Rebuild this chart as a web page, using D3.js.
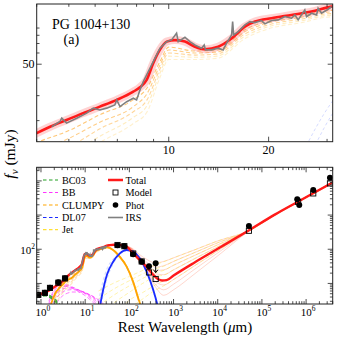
<!DOCTYPE html>
<html>
<head>
<meta charset="utf-8">
<script src="https://cdn.jsdelivr.net/npm/d3@7"></script>
<style>
  body { margin: 0; background: #fff; }
</style>
</head>
<body>
<div id="dataviz"></div>
<script>
// ---- data (rest wavelength in micron, flux in mJy) ----
const totalW = [0.8, 0.95, 1.35, 1.9, 2.7, 3.4, 4.0, 4.39, 4.92, 5.52, 6.2, 6.97, 7.82, 8.19, 8.58, 8.98, 9.4, 9.86, 10.44, 11.19, 11.99, 12.85, 14.1, 15.5, 16.96, 18.2, 20.4, 23.45, 26.9, 30.9, 36, 45, 61, 87, 122, 174, 246, 348, 450, 550, 700, 1000, 3000, 1e4, 4.9e4, 2e5, 6.5e5, 4e6];
const totalF = [4.4, 4.8, 5.7, 7.5, 10.1, 13.0, 16.3, 18.1, 20.2, 22.6, 25.1, 28.0, 32.0, 34.4, 38.8, 50.8, 63.1, 72.2, 74, 72.2, 66.5, 63.8, 66.5, 76.3, 92.1, 100, 105.6, 111.4, 117.6, 127.5, 132, 135, 133, 118, 75, 48, 30.7, 17.7, 13.3, 12.2, 12.5, 17, 41, 103, 349, 1050, 2450, 9000];

// posterior draws of the total, long wavelengths
const totSampW = [50, 100, 200, 400, 600, 1000, 3000, 1e4, 5e4, 2e5, 6.5e5, 4e6];
const totSamples = [
  [136, 118, 60, 40, 44, 56, 96, 175, 345, 1000, 2350, 8500],
  [136, 115, 52, 30, 33, 44, 80, 155, 340, 1020, 2400, 8800],
  [135, 113, 48, 24, 25, 34, 66, 135, 345, 1040, 2450, 9100],
  [135, 112, 45, 19, 18, 25, 53, 118, 350, 1060, 2500, 9300],
  [134, 110, 41, 11, 9, 13, 33, 90, 345, 1040, 2430, 8900],
  [134, 109, 40, 9, 6.5, 9.5, 26, 78, 340, 1030, 2420, 8800],
  [133, 108, 39, 7.5, 4.5, 6.5, 19, 64, 335, 1050, 2480, 9200]
];

const clumpyW = [1.5, 2, 2.5, 3, 4, 5, 6.2, 7.8, 8.6, 9.4, 10, 11, 12, 13, 14, 15.5, 17, 18.2, 20.4, 23.5, 27, 31, 43, 61, 87, 122, 159, 200];
const clumpyF = [1.5, 4.5, 7, 9, 12.5, 14.6, 19, 25, 30, 48, 62, 64, 59, 57, 60, 69, 85, 92, 98, 104, 109, 113, 95, 60, 31, 11.2, 3.7, 1.5];
const clumpySampW = [2, 3, 4, 5, 6.2, 7.8, 8.6, 9.4, 10, 12, 14, 17, 20, 25, 31, 43, 61, 87, 122, 160];
const clumpySamples = [
  [5, 10, 14, 17, 22, 28, 34, 52, 66, 62, 63, 88, 101, 110, 120, 98, 61, 32, 11.5, 3.8],
  [4.2, 8.5, 12, 15, 19.5, 25, 31, 49, 63, 60, 61, 85, 98, 107, 117, 96, 60, 31, 11, 3.6],
  [3.5, 7.2, 10.5, 13, 17.5, 23, 28, 46, 60, 58, 59, 82, 95, 104, 114, 94, 58, 30, 10.5, 3.4],
  [2.8, 6, 9, 11.5, 15.5, 21, 25.5, 43, 57, 56, 57, 79, 92, 101, 111, 92, 57, 29, 10, 3.2],
  [2.2, 5, 7.5, 10, 14, 19, 23, 40, 54, 54, 55, 76, 89, 98, 108, 90, 56, 28.5, 9.7, 3.1]
];

const dl07W = [20, 25, 31, 43, 61, 87, 122, 174, 246, 348, 414, 500];
const dl07F = [1.2, 5.7, 17.6, 43, 76, 95, 85, 54, 22, 6.4, 2.9, 1.0];
const dl07Samples = [
  [2, 8, 22, 48, 78, 93, 82, 52, 21, 6, 2.7, 0.9],
  [0.8, 4, 13, 37, 70, 95, 88, 57, 24, 7, 3.2, 1.1],
  [3, 11, 27, 52, 80, 92, 80, 49, 20, 5.6, 2.5, 0.8]
];

const bbW = [1.5, 2, 3, 4, 5, 7, 10, 15, 20, 30];
const bbSamples = [
  [3, 6.5, 9.5, 9, 8, 6.5, 5, 3.2, 2.2, 1.2],
  [2.2, 5, 8, 8.2, 7.6, 6.5, 5.2, 3.6, 2.6, 1.4],
  [1.6, 4, 6.8, 7.4, 7.2, 6.4, 5.4, 3.9, 2.9, 1.7],
  [1.2, 3, 5.5, 6.4, 6.6, 6.2, 5.4, 4.1, 3.1, 1.9],
  [0.8, 2, 4.2, 5.2, 5.6, 5.6, 5.2, 4.2, 3.3, 2.1],
  [2.6, 5.8, 8.8, 8.4, 7.4, 5.8, 4.4, 2.8, 1.9, 1.0]
];

const bc03W = [0.8, 1, 1.25, 1.6, 2, 2.5, 3, 4];
const bc03Samples = [
  [4.2, 4.6, 4.6, 4.1, 3.3, 2.5, 1.9, 1.2],
  [3.8, 4.2, 4.3, 3.8, 3.1, 2.3, 1.7, 1.0],
  [4.4, 4.9, 5.0, 4.4, 3.6, 2.7, 2.0, 1.3]
];

const jetW = [20, 50, 100, 200, 400, 600, 1000, 3000, 1e4, 5e4, 2e5, 6.5e5, 4e6];
const jetSamples = [
  [6, 11, 16, 24, 36, 43, 56, 96, 175, 345, 1000, 2350, 8500],
  [3.5, 7.5, 12, 19, 27, 32, 44, 80, 155, 340, 1020, 2400, 8800],
  [2.2, 5, 8.5, 14, 21, 24, 34, 66, 135, 345, 1040, 2450, 9100],
  [1.2, 3, 5.5, 10, 16, 17.5, 25, 53, 118, 350, 1060, 2500, 9300],
  [0.4, 1.3, 3.2, 5.4, 9.2, 12, 17, 41, 103, 349, 1050, 2450, 9000],
  [0.2, 0.7, 1.8, 3.5, 6.5, 8.5, 13, 33, 90, 345, 1040, 2430, 8900]
];

// Spitzer IRS spectrum
const irsW = [4.44, 4.70, 4.76, 4.92, 5.28, 5.66, 5.92, 6.20, 6.50, 6.88, 6.97, 7.13, 7.47, 7.82, 8.0, 8.19, 8.38, 8.58, 8.98, 9.41, 9.86, 10.2, 10.56, 10.68, 11.19, 11.58, 11.99, 12.56, 12.79, 12.91, 13.46, 14.1, 14.59, 14.94, 15.47, 15.58, 15.69, 16.19, 16.96, 17.56, 18.18, 19.04, 19.49, 20.42, 21.37, 22.39, 23.45, 23.99, 24.55, 25.71, 26.02, 26.94, 27.89, 28.2, 28.87, 30.22, 30.95];
const irsF = [18.1, 19.7, 20.8, 19.2, 20.8, 22.6, 24.5, 23.8, 24.5, 25.8, 28.0, 25.1, 27.2, 28.8, 28.0, 32.9, 37.7, 42.0, 52.2, 64.9, 72.2, 74.2, 82.7, 72.2, 77.5, 72.2, 68.4, 64.9, 68.4, 63.1, 63.1, 64.9, 63.1, 70.3, 80.5, 99.9, 80.5, 84.9, 94.7, 99.9, 98.3, 101.6, 96.3, 101.6, 102.7, 108.4, 105.6, 111.4, 102.7, 120.8, 108.4, 114.5, 111.4, 124.2, 114.5, 122.2, 127.5];

// photometry and model points
const photW = [0.87, 1.23, 1.6, 2.47, 3.5, 54, 77, 122, 190, 278, 5.08e4, 6.3e5, 7.0e5, 1.45e6, 3.47e6];
const photF = [4.6, 5.3, 7.5, 10.8, 14.1, 130, 122, 71, 43, 32, 477, 2880, 1960, 5380, 12300];
const limitW = [394];
const limitF = [39];
const modelW = [0.87, 1.23, 1.6, 2.47, 3.5, 54, 77, 122, 190, 278, 394, 5.08e4, 6.6e5, 1.45e6, 3.47e6];
const modelF = [4.6, 5.3, 7.4, 10.5, 14, 133, 123, 75, 44, 21, 13.5, 348, 2450, 4310, 8460];

// tick values
const topXTicks = [4, 5, 6, 7, 8, 9, 10, 20, 30];
const topXLabels = [10, 20];
const topYTicks = [20, 30, 40, 50, 60, 70, 80, 90];
const topYLabels = [50];
const botXLabels = [0, 1, 2, 3, 4, 5, 6];
const botYLabels = [2];

// ---- layout ----
const width = 337, height = 339;
const serif = "Liberation Serif, Times New Roman, DejaVu Serif, serif";
const topBox = { x0: 36.7, x1: 332.7, y0: 4, y1: 141.7 };
const botBox = { x0: 36.7, x1: 332.7, y0: 167.3, y1: 304 };

const svg = d3.select("#dataviz")
    .append("svg")
    .attr("width", width)
    .attr("height", height)
    .attr("font-family", serif);

const xTop = d3.scaleLog().domain([4, 31.2]).range([topBox.x0, topBox.x1]);
const yTop = d3.scaleLog().domain([14.2, 133]).range([topBox.y1, topBox.y0]);
const xBot = d3.scaleLog().domain([0.8, 4e6]).range([botBox.x0, botBox.x1]);
const yBot = d3.scaleLog().domain([2.5, 2.5e4]).range([botBox.y1, botBox.y0]);

// clip paths
const defs = svg.append("defs");
[["clipTop", topBox], ["clipBot", botBox]].forEach(([id, b]) => {
    defs.append("clipPath").attr("id", id)
        .append("rect")
        .attr("x", b.x0).attr("y", b.y0)
        .attr("width", b.x1 - b.x0).attr("height", b.y1 - b.y0);
});

function lineGen(xs, ys, curve) {
    return d3.line()
        .x(d => xs(d[0]))
        .y(d => ys(d[1]))
        .curve(curve || d3.curveMonotoneX);
}

function drawLine(g, xs, ys, w, f, style, curve) {
    const p = g.append("path")
        .datum(d3.zip(w, f))
        .attr("d", lineGen(xs, ys, curve))
        .attr("fill", "none");
    for (const k in style) p.attr(k, style[k]);
    return p;
}

function addText(x, y, size, str) {
    return svg.append("text")
        .attr("x", x).attr("y", y)
        .attr("font-family", serif)
        .attr("font-size", size)
        .attr("fill", "#000")
        .text(str);
}

// ---- top panel ----
const gTop = svg.append("g").attr("clip-path", "url(#clipTop)");

clumpySamples.forEach((s, i) => {
    drawLine(gTop, xTop, yTop, clumpySampW, s, {
        stroke: i < 3 ? "#ffa21a" : "#ffc94d", "stroke-width": 1.1,
        "stroke-dasharray": "4,2.5", opacity: 0.6 - i * 0.08
    });
});
dl07Samples.forEach(s => {
    drawLine(gTop, xTop, yTop, dl07W, s, {
        stroke: "#8899ff", "stroke-width": 1, "stroke-dasharray": "3,2.5", opacity: 0.35
    });
});
// posterior halo + best total
drawLine(gTop, xTop, yTop, totalW, totalF, { stroke: "#ff8080", "stroke-width": 8, opacity: 0.35 });
drawLine(gTop, xTop, yTop, totalW, totalF, { stroke: "#ff1a1a", "stroke-width": 2.6 });
drawLine(gTop, xTop, yTop, irsW, irsF, { stroke: "#808080", "stroke-width": 1.6 }, d3.curveLinear);

// ---- bottom panel ----
const gBot = svg.append("g").attr("clip-path", "url(#clipBot)");

totSamples.forEach(s => {
    drawLine(gBot, xBot, yBot, totSampW, s, { stroke: "#ff7a5c", "stroke-width": 1, opacity: 0.3 });
});
jetSamples.forEach(s => {
    drawLine(gBot, xBot, yBot, jetW, s, {
        stroke: "#ffe033", "stroke-width": 1, "stroke-dasharray": "4,2.5", opacity: 0.4
    });
});
bbSamples.forEach(s => {
    drawLine(gBot, xBot, yBot, bbW, s, {
        stroke: "#ff33ff", "stroke-width": 1, "stroke-dasharray": "4,2.5", opacity: 0.65
    });
});
bc03Samples.forEach(s => {
    drawLine(gBot, xBot, yBot, bc03W, s, {
        stroke: "#22a022", "stroke-width": 1.2, "stroke-dasharray": "4,2.5", opacity: 0.8
    });
});
dl07Samples.forEach(s => {
    drawLine(gBot, xBot, yBot, dl07W, s, {
        stroke: "#8899ff", "stroke-width": 1, "stroke-dasharray": "3,2.5", opacity: 0.35
    });
});
clumpySamples.forEach((s, i) => {
    drawLine(gBot, xBot, yBot, clumpySampW, s, {
        stroke: "#ffa21a", "stroke-width": 1.1, "stroke-dasharray": "4,2.5", opacity: 0.6 - i * 0.08
    });
});
drawLine(gBot, xBot, yBot, clumpyW, clumpyF, { stroke: "#ffa500", "stroke-width": 1.8 });
drawLine(gBot, xBot, yBot, dl07W, dl07F, { stroke: "#1a2bff", "stroke-width": 1.8 });
drawLine(gBot, xBot, yBot, totalW, totalF, { stroke: "#ff1a1a", "stroke-width": 2.4 });
drawLine(gBot, xBot, yBot, irsW, irsF, { stroke: "#808080", "stroke-width": 1.6 }, d3.curveLinear);

// model squares
gBot.selectAll(".model")
    .data(d3.zip(modelW, modelF))
    .join("rect")
    .attr("x", d => xBot(d[0]) - 2.6)
    .attr("y", d => yBot(d[1]) - 2.6)
    .attr("width", 5.2).attr("height", 5.2)
    .attr("fill", "none").attr("stroke", "#000").attr("stroke-width", 0.9);

// photometry
gBot.selectAll(".phot")
    .data(d3.zip(photW, photF).concat(d3.zip(limitW, limitF)))
    .join("circle")
    .attr("cx", d => xBot(d[0]))
    .attr("cy", d => yBot(d[1]))
    .attr("r", 3)
    .attr("fill", "#000");

// upper limit arrows
d3.zip(limitW, limitF).forEach(d => {
    const cx = xBot(d[0]), cy = yBot(d[1]);
    gBot.append("line")
        .attr("x1", cx).attr("x2", cx).attr("y1", cy).attr("y2", cy + 9)
        .attr("stroke", "#000").attr("stroke-width", 1);
    gBot.append("path")
        .attr("d", `M${cx - 2.2},${cy + 6.5} L${cx},${cy + 9.5} L${cx + 2.2},${cy + 6.5}`)
        .attr("fill", "none").attr("stroke", "#000").attr("stroke-width", 1);
});

// ---- axes: frames and inward ticks on all sides ----
function frame(b) {
    svg.append("rect")
        .attr("x", b.x0).attr("y", b.y0)
        .attr("width", b.x1 - b.x0).attr("height", b.y1 - b.y0)
        .attr("fill", "none").attr("stroke", "#222").attr("stroke-width", 1);
}

function xTicks(b, xs, values, isMajor) {
    values.forEach(v => {
        const x = xs(v), len = isMajor(v) ? 5 : 2.8;
        svg.append("line").attr("x1", x).attr("x2", x).attr("y1", b.y1).attr("y2", b.y1 - len)
            .attr("stroke", "#222").attr("stroke-width", 0.8);
        svg.append("line").attr("x1", x).attr("x2", x).attr("y1", b.y0).attr("y2", b.y0 + len)
            .attr("stroke", "#222").attr("stroke-width", 0.8);
    });
}

function yTicks(b, ys, values, isMajor) {
    values.forEach(v => {
        const y = ys(v), len = isMajor(v) ? 5 : 2.8;
        svg.append("line").attr("y1", y).attr("y2", y).attr("x1", b.x0).attr("x2", b.x0 + len)
            .attr("stroke", "#222").attr("stroke-width", 0.8);
        svg.append("line").attr("y1", y).attr("y2", y).attr("x1", b.x1).attr("x2", b.x1 - len)
            .attr("stroke", "#222").attr("stroke-width", 0.8);
    });
}

const isPow10 = v => Math.abs(Math.log10(v) - Math.round(Math.log10(v))) < 1e-6;

frame(topBox);
frame(botBox);
xTicks(topBox, xTop, topXTicks, v => topXLabels.includes(v));
yTicks(topBox, yTop, topYTicks, v => topYLabels.includes(v));
xTicks(botBox, xBot, xBot.ticks(), isPow10);
yTicks(botBox, yBot, yBot.ticks(), isPow10);

// tick labels
topXLabels.forEach(v => {
    addText(xTop(v), 153.5, 12, v).attr("text-anchor", "middle");
});
topYLabels.forEach(v => {
    addText(34.5, yTop(v) + 4.2, 12, v).attr("text-anchor", "end");
});
botXLabels.forEach(k => {
    const t = addText(xBot(Math.pow(10, k)) + 2, 315.5, 11, "").attr("text-anchor", "middle");
    t.append("tspan").text("10");
    t.append("tspan").attr("font-size", 7.5).attr("dy", -5).text(k);
});
botYLabels.forEach(k => {
    const t = addText(35, yBot(Math.pow(10, k)) + 4.5, 11, "").attr("text-anchor", "end");
    t.append("tspan").text("10");
    t.append("tspan").attr("font-size", 7.5).attr("dy", -5).text(k);
});

// axis titles
const xl = addText(185, 332, 15, "").attr("text-anchor", "middle");
xl.append("tspan").text("Rest Wavelength (");
xl.append("tspan").attr("font-style", "italic").text("μ");
xl.append("tspan").text("m)");

const yl = addText(0, 0, 15.5, "")
    .attr("transform", "translate(15,154) rotate(-90)")
    .attr("text-anchor", "middle");
yl.append("tspan").attr("font-style", "italic").text("f");
yl.append("tspan").attr("font-style", "italic").attr("font-size", 11).attr("dy", 3).text("ν");
yl.append("tspan").attr("dy", -3).text(" (mJy)");

// panel annotations
addText(52, 29.3, 14, "PG 1004+130");
addText(63.5, 43.5, 14, "(a)");

// ---- legend ----
const legendLeft = [
    { name: "BC03", color: "#22a022" },
    { name: "BB", color: "#ff33ff" },
    { name: "CLUMPY", color: "#ffa500" },
    { name: "DL07", color: "#1a2bff" },
    { name: "Jet", color: "#ffe033" }
];
const legendRight = ["Total", "Model", "Phot", "IRS"];
const rowY = [180, 192.5, 205, 217.5, 229.7];

legendLeft.forEach((d, i) => {
    svg.append("line")
        .attr("x1", 43).attr("x2", 58).attr("y1", rowY[i]).attr("y2", rowY[i])
        .attr("stroke", d.color).attr("stroke-width", 1.2).attr("stroke-dasharray", "3.5,2.5");
    addText(62, rowY[i] + 3.6, 10.2, d.name);
});

legendRight.forEach((name, i) => {
    const y = rowY[i];
    if (name === "Total") {
        svg.append("line").attr("x1", 108).attr("x2", 123).attr("y1", y).attr("y2", y)
            .attr("stroke", "#ff1a1a").attr("stroke-width", 2.5);
    } else if (name === "IRS") {
        svg.append("line").attr("x1", 108).attr("x2", 123).attr("y1", y).attr("y2", y)
            .attr("stroke", "#808080").attr("stroke-width", 1.6);
    } else if (name === "Model") {
        svg.append("rect").attr("x", 113).attr("y", y - 2.5).attr("width", 5).attr("height", 5)
            .attr("fill", "none").attr("stroke", "#000").attr("stroke-width", 0.9);
    } else {
        svg.append("circle").attr("cx", 115.5).attr("cy", y).attr("r", 2.8).attr("fill", "#000");
    }
    addText(125.5, y + 3.6, 10.2, name);
});
</script>
</body>
</html>
